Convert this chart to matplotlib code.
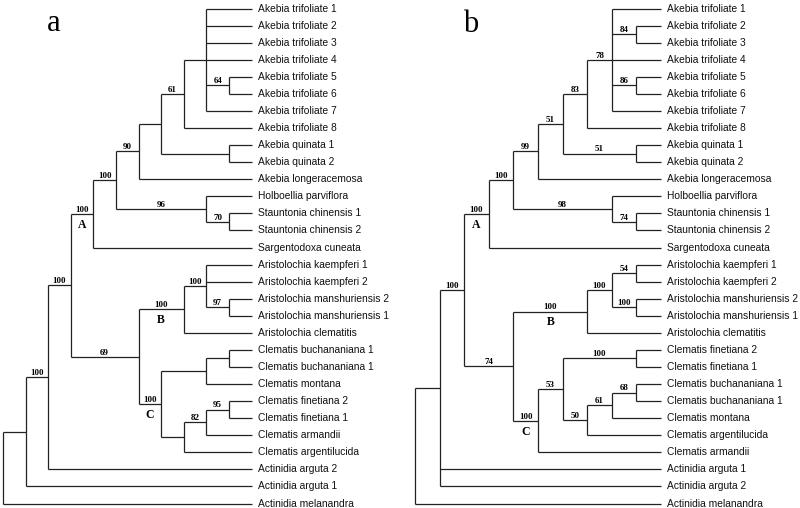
import matplotlib
matplotlib.use("Agg")
import matplotlib.pyplot as plt

# ── data ───────────────────────────────────────────────────────────────────────
LEAVES_A = [
    "Akebia trifoliate 1", "Akebia trifoliate 2", "Akebia trifoliate 3",
    "Akebia trifoliate 4", "Akebia trifoliate 5", "Akebia trifoliate 6",
    "Akebia trifoliate 7", "Akebia trifoliate 8",
    "Akebia quinata 1", "Akebia quinata 2", "Akebia longeracemosa",
    "Holboellia parviflora", "Stauntonia chinensis 1", "Stauntonia chinensis 2",
    "Sargentodoxa cuneata",
    "Aristolochia kaempferi 1", "Aristolochia kaempferi 2",
    "Aristolochia manshuriensis 2", "Aristolochia manshuriensis 1",
    "Aristolochia clematitis",
    "Clematis buchananiana 1", "Clematis buchananiana 1", "Clematis montana",
    "Clematis finetiana 2", "Clematis finetiana 1", "Clematis armandii",
    "Clematis argentilucida",
    "Actinidia arguta 2", "Actinidia arguta 1", "Actinidia melanandra",
]

LEAVES_B = [
    "Akebia trifoliate 1", "Akebia trifoliate 2", "Akebia trifoliate 3",
    "Akebia trifoliate 4", "Akebia trifoliate 5", "Akebia trifoliate 6",
    "Akebia trifoliate 7", "Akebia trifoliate 8",
    "Akebia quinata 1", "Akebia quinata 2", "Akebia longeracemosa",
    "Holboellia parviflora", "Stauntonia chinensis 1", "Stauntonia chinensis 2",
    "Sargentodoxa cuneata",
    "Aristolochia kaempferi 1", "Aristolochia kaempferi 2",
    "Aristolochia manshuriensis 2", "Aristolochia manshuriensis 1",
    "Aristolochia clematitis",
    "Clematis finetiana 2", "Clematis finetiana 1",
    "Clematis buchananiana 1", "Clematis buchananiana 1", "Clematis montana",
    "Clematis argentilucida", "Clematis armandii",
    "Actinidia arguta 1", "Actinidia arguta 2", "Actinidia melanandra",
]

# internal node = (depth, support, clade letter, children); int child = leaf index
TREE_A = (0, "", "", [
    (1, "", "", [
        (2, "100", "", [
            (3, "100", "", [
                (4, "100", "A", [
                    (5, "100", "", [
                        (6, "90", "", [
                            (7, "", "", [
                                (8, "61", "", [
                                    (9, "", "", [0, 1, 2, 3, (10, "64", "", [4, 5]), 6]),
                                    7]),
                                (10, "", "", [8, 9])]),
                            10]),
                        (9, "96", "", [11, (10, "70", "", [12, 13])])]),
                    14]),
                (6, "69", "", [
                    (8, "100", "B", [
                        (9, "100", "", [15, 16, (10, "97", "", [17, 18])]),
                        19]),
                    (7, "100", "C", [
                        (9, "", "", [(10, "", "", [20, 21]), 22]),
                        (8, "", "", [
                            (9, "82", "", [(10, "95", "", [23, 24]), 25]),
                            26])])])]),
            27]),
        28]),
    29])
TIP_DEPTH_A = 11

TREE_B = (0, "", "", [
    (1, "", "", [
        (2, "100", "", [
            (3, "100", "A", [
                (4, "100", "", [
                    (5, "99", "", [
                        (6, "51", "", [
                            (7, "83", "", [
                                (8, "78", "", [0, (9, "84", "", [1, 2]), 3,
                                               (9, "86", "", [4, 5]), 6]),
                                7]),
                            (9, "51", "", [8, 9])]),
                        10]),
                    (8, "98", "", [11, (9, "74", "", [12, 13])])]),
                14]),
            (4, "74", "", [
                (7, "100", "B", [
                    (8, "100", "", [(9, "54", "", [15, 16]), (9, "100", "", [17, 18])]),
                    19]),
                (5, "100", "C", [
                    (6, "53", "", [
                        (9, "100", "", [20, 21]),
                        (7, "50", "", [
                            (8, "61", "", [(9, "68", "", [22, 23]), 24]),
                            25])]),
                    26])])]),
        27, 28]),
    29])
TIP_DEPTH_B = 10

LINE_KW = dict(color="#222222", linewidth=0.9, solid_capstyle="butt")
SANS = ["Liberation Sans", "DejaVu Sans"]
SERIF = ["Liberation Serif", "DejaVu Serif"]


# ── drawing ────────────────────────────────────────────────────────────────────

def draw_node(ax, node, leaves, tip_depth, parent_x=None):
    """Draw a node and its subtree, return (x, y) of the node."""
    if isinstance(node, int):
        x, y = tip_depth, node
        ax.annotate(leaves[node], (x, y), xytext=(4.5, 0),
                    textcoords="offset points", ha="left", va="center",
                    fontsize=7.4, family=SANS, color="#111111")
        if parent_x is not None:
            ax.plot([parent_x, x], [y, y], **LINE_KW)
        return x, y

    depth, support, clade, children = node
    ys = [draw_node(ax, c, leaves, tip_depth, depth)[1] for c in children]
    y = (ys[0] + ys[-1]) / 2
    ax.plot([depth, depth], [ys[0], ys[-1]], **LINE_KW)
    if parent_x is not None:
        ax.plot([parent_x, depth], [y, y], **LINE_KW)
        mid = (parent_x + depth) / 2
        if support:
            ax.annotate(support, (mid, y), xytext=(0, 1.6),
                        textcoords="offset points", ha="center", va="baseline",
                        fontsize=6.5, fontweight="bold", family=SERIF)
        if clade:
            ax.annotate(clade, (mid, y), xytext=(0, -3.5),
                        textcoords="offset points", ha="center", va="top",
                        fontsize=8.5, fontweight="bold", family=SERIF)
    return depth, y


def setup(ax, xlim, ylim):
    ax.set_xlim(*xlim)
    ax.set_ylim(*ylim)
    ax.axis("off")


fig = plt.figure(figsize=(8.0, 5.08), dpi=100)

ax_a = fig.add_axes([0.0, 0.0, 0.5, 1.0])
setup(ax_a, (-0.133, 17.57), (29.26, -0.50))
draw_node(ax_a, TREE_A, LEAVES_A, TIP_DEPTH_A)

ax_b = fig.add_axes([0.5, 0.0, 0.5, 1.0])
setup(ax_b, (-0.61, 15.65), (29.26, -0.50))
draw_node(ax_b, TREE_B, LEAVES_B, TIP_DEPTH_B)

fig.text(54 / 800, 1 - 31 / 508, "a", ha="center", va="baseline",
         fontsize=22, family=SERIF)
fig.text(471 / 800, 1 - 32 / 508, "b", ha="center", va="baseline",
         fontsize=22, family=SERIF)

fig.savefig("out.png", dpi=100, facecolor="white")
